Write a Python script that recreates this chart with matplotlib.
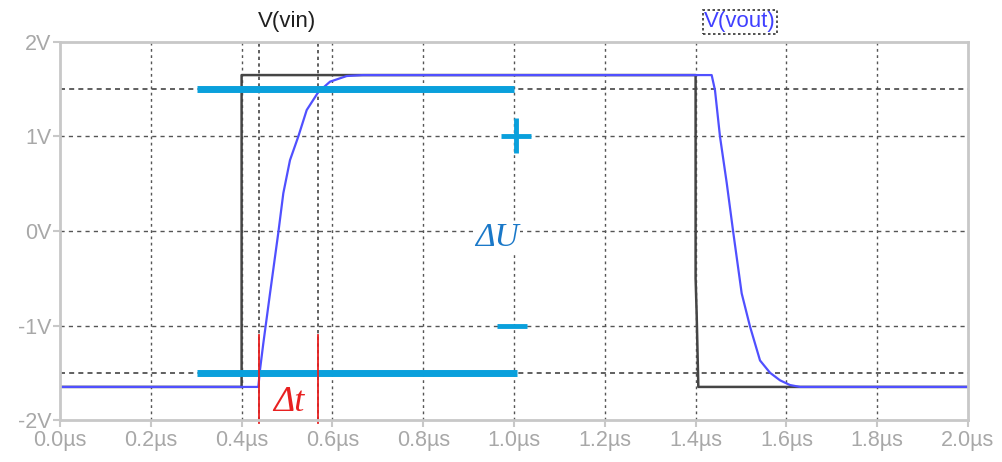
import matplotlib
matplotlib.use("Agg")
import matplotlib.pyplot as plt

# ---- data ----
x_ticks = [0.0, 0.2, 0.4, 0.6, 0.8, 1.0, 1.2, 1.4, 1.6, 1.8, 2.0]
x_labels = ["0.0µs", "0.2µs", "0.4µs", "0.6µs", "0.8µs", "1.0µs",
            "1.2µs", "1.4µs", "1.6µs", "1.8µs", "2.0µs"]
y_ticks = [-2, -1, 0, 1, 2]
y_labels = ["-2V", "-1V", "0V", "1V", "2V"]

vin_t = [0.0, 0.4, 0.4, 1.4, 1.4, 1.4023, 1.406, 2.0]
vin_v = [-1.65, -1.65, 1.65, 1.65, -0.5, -0.87, -1.65, -1.65]

vout_t = [0.0, 0.4368, 0.4405, 0.4478, 0.4626, 0.4808, 0.4919, 0.5066, 0.5249,
          0.5434, 0.5689, 0.5947, 0.6315, 0.667,
          1.4354, 1.4427, 1.4537, 1.4685, 1.4831, 1.5015, 1.5198, 1.5419,
          1.5639, 1.5859, 1.6079, 1.63, 2.0]
vout_v = [-1.65, -1.65, -1.47, -1.19, -0.66, -0.02, 0.40, 0.75, 1.0,
          1.28, 1.47, 1.58, 1.64, 1.65,
          1.65, 1.49, 1.0, 0.51, -0.02, -0.66, -1.01, -1.37,
          -1.50, -1.58, -1.63, -1.65, -1.65]

cursor_t = [0.438, 0.568]
level_v = [1.5, -1.5]
level_t_start = [0.302, 0.302]
level_t_end = [1.0, 1.0066]

# ---- figure ----
W, H = 1003, 462
fig = plt.figure(figsize=(W / 100, H / 100), dpi=100)
ax = fig.add_axes([60 / W, (H - 420) / H, 908 / W, 378 / H])
ax.set_xlim(0, 2.0)
ax.set_ylim(-2, 2)

gridc = "#555555"
for xt in x_ticks[1:-1]:
    ax.axvline(xt, color=gridc, lw=1.0, ls=(0, (2, 2.5)), zorder=1)
for yt in y_ticks[1:-1]:
    ax.axhline(yt, color=gridc, lw=1.0, ls=(0, (3, 3)), zorder=1)
for lv in level_v:
    ax.axhline(lv, color="#444444", lw=1.2, ls=(0, (3, 2.5)), zorder=1)
for ct in cursor_t:
    ax.axvline(ct, color="#444444", lw=1.2, ls=(0, (2, 2)), zorder=1)

# signals
ax.plot(vin_t, vin_v, color="#454545", lw=1.8, zorder=3)
ax.plot(vout_t, vout_v, color="#5050ff", lw=1.6, zorder=4)

# cyan level lines
cyan = "#0aa0dc"
for lv, a, b in zip(level_v, level_t_start, level_t_end):
    ax.plot([a, b], [lv, lv], color=cyan, lw=5, solid_capstyle="butt", zorder=5)

# plus / minus markers
ax.plot([0.971, 1.037], [1.0, 1.0], color=cyan, lw=3.5, solid_capstyle="butt", zorder=5)
ax.plot([1.004, 1.004], [0.825, 1.196], color=cyan, lw=3.5, solid_capstyle="butt", zorder=5)
ax.plot([0.9626, 1.0286], [-1.01, -1.01], color=cyan, lw=3.5, solid_capstyle="butt", zorder=5)

ax.text(0.9626, -0.07, "ΔU", color="#1a78c8", fontsize=24, family="Liberation Serif",
        style="italic", ha="center", va="center", zorder=6,
        bbox=dict(facecolor="white", edgecolor="none", pad=1))

# red delta-t markers
red = "#e82020"
for ct in cursor_t:
    ax.plot([ct, ct], [-1.1, -2.03], color=red, lw=1.3, zorder=6, clip_on=False)
ax.text(0.503, -1.81, "Δt", color=red, fontsize=26, family="Liberation Serif",
        style="italic", ha="center", va="center", zorder=6,
        bbox=dict(facecolor="white", edgecolor="none", pad=0.0))

# axes styling
for s in ax.spines.values():
    s.set_color("#c8c8c8")
    s.set_linewidth(2)
    s.set_zorder(7)
ax.set_xticks(x_ticks)
ax.set_xticklabels(x_labels)
ax.set_yticks(y_ticks)
ax.set_yticklabels(y_labels)
ax.tick_params(colors="#c8c8c8", labelcolor="#a8a8a8", labelsize=15.5, length=5, width=1.5,
               direction="out")
for lab in ax.get_xticklabels() + ax.get_yticklabels():
    lab.set_family("Liberation Sans")
ax.tick_params(axis="y", pad=1)
ax.tick_params(axis="x", pad=2)

# trace labels
fig.text(287 / W, 1 - 22 / H, "V(vin)", color="#202020", fontsize=16,
         family="Liberation Sans", ha="center", va="center")
fig.text(740 / W, 1 - 22 / H, "V(vout)", color="#4040ff", fontsize=16,
         family="Liberation Sans", ha="center", va="center",
         bbox=dict(facecolor="none", edgecolor="#333333", ls=(0, (1.5, 1.5)), lw=1.2, pad=1.0))

fig.savefig("out.png", dpi=100)
